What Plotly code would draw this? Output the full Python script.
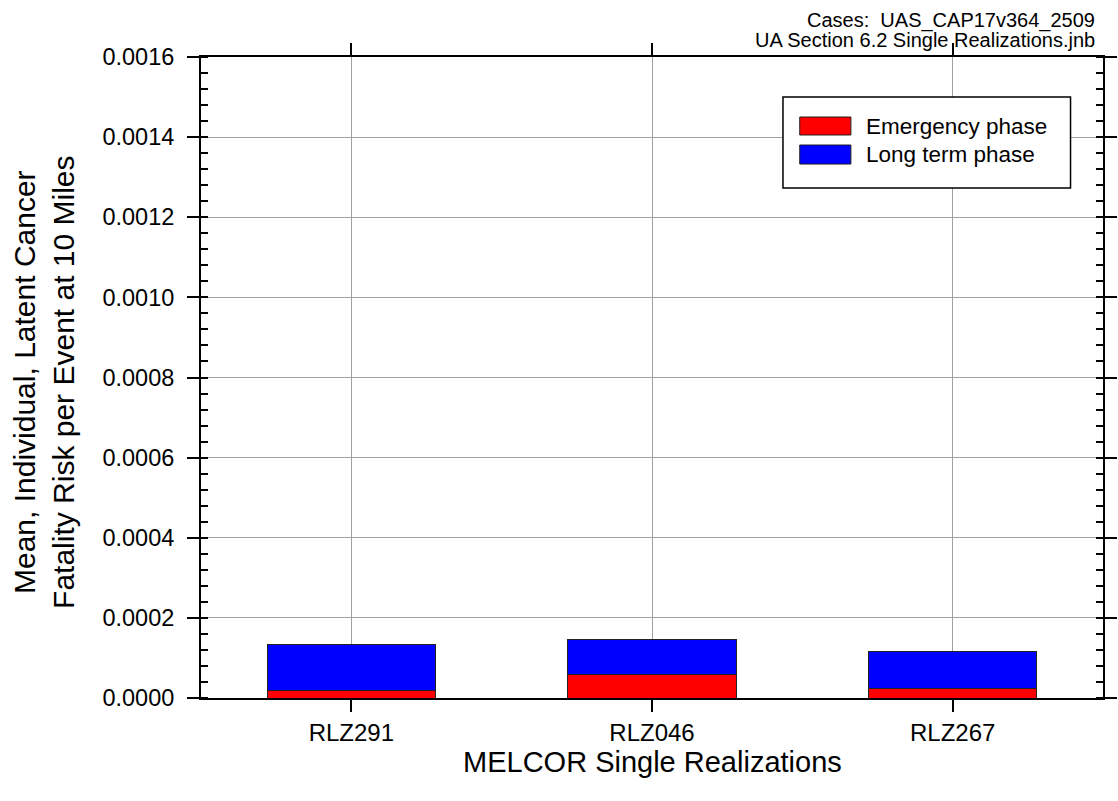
import plotly.graph_objects as go

# Data
realizations = ["RLZ291", "RLZ046", "RLZ267"]
emergency = [0.000019, 0.000059, 0.000024]
long_term = [0.000115, 0.0000875, 0.000093]

font_family = "Liberation Sans, Arial, sans-serif"
red = "#ff0000"
blue = "#0000ff"

fig = go.Figure()
fig.add_trace(go.Bar(x=realizations, y=emergency, name="Emergency phase", width=0.56,
                     marker=dict(color=red, line=dict(color="#222222", width=1))))
fig.add_trace(go.Bar(x=realizations, y=long_term, name="Long term phase", width=0.56,
                     marker=dict(color=blue, line=dict(color="#222222", width=1))))

fig.update_layout(
    barmode="stack",
    width=1118, height=801,
    margin=dict(l=201, r=1, t=57, b=103),
    paper_bgcolor="white", plot_bgcolor="white",
    font=dict(family=font_family, color="black"),
    showlegend=False,
)

fig.update_xaxes(type="category", range=[-0.5, 2.5],
                 showgrid=True, gridcolor="#a0a0a0", gridwidth=1,
                 showline=True, linecolor="black", linewidth=2, mirror="ticks",
                 ticks="outside", ticklen=12, tickwidth=1.5, tickcolor="black",
                 tickfont=dict(size=24))

fig.update_yaxes(range=[0, 0.0016], dtick=0.0002, tickformat=".4f",
                 showgrid=True, gridcolor="#a0a0a0", gridwidth=1, zeroline=False,
                 showline=True, linecolor="black", linewidth=2, mirror="ticks",
                 ticks="outside", ticklen=12, tickwidth=1.5, tickcolor="black",
                 ticklabelstandoff=8,
                 minor=dict(ticks="inside", ticklen=7, dtick=0.00004, tickcolor="black",
                            tickwidth=1.5, showgrid=False),
                 tickfont=dict(size=23.5))

# axis titles
fig.add_annotation(text="Mean, Individual, Latent Cancer<br>Fatality Risk per Event at 10 Miles",
                   xref="paper", yref="paper", x=-0.1741, y=0.493, textangle=-90,
                   xanchor="center", yanchor="middle", showarrow=False,
                   font=dict(size=30))
fig.add_annotation(text="MELCOR Single Realizations", xref="paper", yref="paper",
                   x=0.5, y=-0.1, xanchor="center", yanchor="middle", showarrow=False,
                   font=dict(size=29))

# case labels, top right
fig.add_annotation(text="Cases:  UAS_CAP17v364_2509", xref="paper", yref="paper",
                   x=0.9934, y=1.0562, xanchor="right", yanchor="middle", showarrow=False,
                   font=dict(size=20))
fig.add_annotation(text="UA Section 6.2 Single Realizations.jnb", xref="paper", yref="paper",
                   x=0.9934, y=1.0265, xanchor="right", yanchor="middle", showarrow=False,
                   font=dict(size=20))

# legend box drawn by hand to get the wide swatches
fig.add_shape(type="rect", xref="paper", yref="paper", x0=0.6452, x1=0.964, y0=0.7956, y1=0.9376,
              line=dict(color="black", width=1.5), fillcolor="white", layer="above")
legend_items = [("Emergency phase", red, 0.9064, 0.8783), ("Long term phase", blue, 0.8627, 0.8330)]
for label, color, ytop, ybot in legend_items:
    fig.add_shape(type="rect", xref="paper", yref="paper", x0=0.6638, x1=0.7205, y0=ybot, y1=ytop,
                  line=dict(color="#222222", width=1), fillcolor=color, layer="above")
    fig.add_annotation(text=label, xref="paper", yref="paper", x=0.7347, y=(ytop + ybot) / 2,
                       xanchor="left", yanchor="middle", showarrow=False, font=dict(size=22.5))

# drop the default body margin so the figure sits flush with the window
fig.write_html("out.html", config={"displayModeBar": False},
               post_script="document.body.style.margin='0px'; document.body.style.overflow='hidden';")
